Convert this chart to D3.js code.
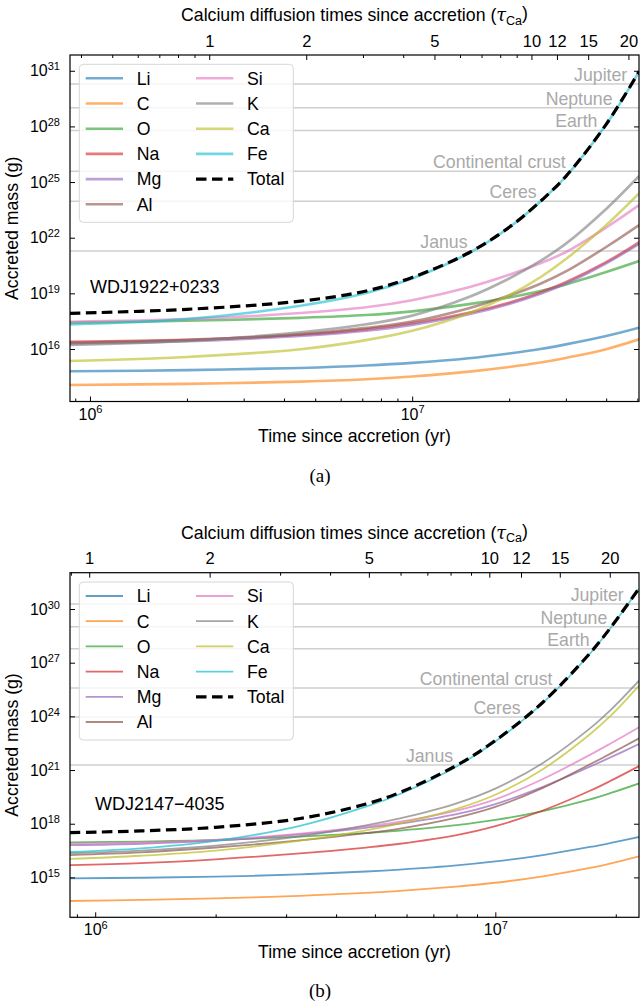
<!DOCTYPE html>
<html>
<head>
<meta charset="utf-8">
<script src="https://cdn.jsdelivr.net/npm/d3@7"></script>
<style>
body { margin: 0; background: #fff; }
text { font-family: "Liberation Sans", Arial, Helvetica, sans-serif; }
</style>
</head>
<body>
<svg id="chart" width="641" height="1005"></svg>
<script>
// element names and colours (matplotlib tab10)
var elements = ["Li", "C", "O", "Na", "Mg", "Al", "Si", "K", "Ca", "Fe"];
var colors = ["#1f77b4", "#ff7f0e", "#2ca02c", "#d62728", "#9467bd", "#8c564b", "#e377c2", "#7f7f7f", "#bcbd22", "#17becf"];

// reference bodies, log10 of mass in g
var bodyNames = ["Jupiter", "Neptune", "Earth", "Continental crust", "Ceres", "Janus"];
var bodyLogMass = [30.28, 29.01, 27.78, 25.58, 23.97, 21.28];

var tauTicks = [1, 2, 5, 10, 12, 15, 20];
var tauMinorTicks = [0.4, 0.5, 0.6, 0.7, 0.8, 0.9, 3, 4, 6, 7, 8, 9];
var yTicksA = [16, 19, 22, 25, 28, 31];
var yTicksB = [15, 18, 21, 24, 27, 30];
var xMajorTicks = [1e6, 1e7];
var xMinorTicks = [9e5, 2e6, 3e6, 4e6, 5e6, 6e6, 7e6, 8e6, 9e6, 2e7, 3e7, 4e7, 5e7];

// panel (a) WDJ1922+0233 : time since accretion (yr), log10 accreted mass (g)
var timeA = [8.67e5, 2e6, 4.5e6, 7.2e6, 1e7, 1.5e7, 2e7, 2.5e7, 3e7, 4e7, 5.06e7];
var massA = [
  [14.80, 14.86, 14.98, 15.11, 15.25, 15.50, 15.76, 16.00, 16.25, 16.70, 17.15], // Li
  [14.06, 14.12, 14.24, 14.37, 14.52, 14.78, 15.03, 15.27, 15.52, 15.99, 16.52], // C
  [17.42, 17.52, 17.68, 17.83, 18.03, 18.42, 18.78, 19.13, 19.48, 20.15, 20.74], // O
  [16.39, 16.50, 16.77, 17.06, 17.38, 17.95, 18.50, 19.05, 19.60, 20.68, 21.75], // Na
  [16.30, 16.42, 16.70, 16.98, 17.30, 17.88, 18.43, 18.98, 19.53, 20.62, 21.66], // Mg
  [16.33, 16.48, 16.80, 17.14, 17.48, 18.20, 18.88, 19.52, 20.18, 21.50, 22.68], // Al
  [17.47, 17.61, 17.94, 18.25, 18.63, 19.33, 20.00, 20.62, 21.23, 22.55, 23.76], // Si
  [16.22, 16.44, 16.90, 17.33, 17.80, 18.80, 19.80, 20.75, 21.68, 23.55, 25.33], // K
  [15.35, 15.57, 15.99, 16.48, 16.98, 17.93, 18.90, 19.87, 20.85, 22.68, 24.39], // Ca
  [17.33, 17.62, 18.33, 19.02, 19.80, 21.17, 22.55, 23.95, 25.30, 28.10, 30.95]  // Fe
];
var totalA = [17.92, 18.14, 18.58, 19.13, 19.86, 21.19, 22.56, 23.96, 25.31, 28.11, 30.96];

// panel (b) WDJ2147-4035
var timeB = [8.65e5, 1.3e6, 2e6, 3.25e6, 4.75e6, 5.78e6, 8e6, 1e7, 1.315e7, 1.724e7, 1.946e7, 2.286e7];
var massB = [
  [14.95, 14.98, 15.04, 15.17, 15.33, 15.44, 15.67, 15.89, 16.25, 16.70, 16.93, 17.26], // Li
  [13.68, 13.74, 13.83, 13.97, 14.14, 14.25, 14.49, 14.70, 15.06, 15.53, 15.79, 16.18], // C
  [16.96, 17.00, 17.09, 17.28, 17.48, 17.62, 17.92, 18.21, 18.71, 19.36, 19.72, 20.25], // O
  [15.69, 15.80, 16.01, 16.34, 16.67, 16.88, 17.36, 17.86, 18.74, 19.84, 20.41, 21.22], // Na
  [16.80, 16.88, 17.05, 17.40, 17.77, 18.00, 18.53, 19.10, 20.06, 21.19, 21.72, 22.45], // Mg
  [16.25, 16.40, 16.67, 17.07, 17.47, 17.73, 18.34, 18.94, 20.00, 21.32, 21.93, 22.77], // Al
  [16.87, 16.95, 17.10, 17.45, 17.85, 18.11, 18.73, 19.36, 20.50, 21.85, 22.50, 23.39], // Si
  [16.35, 16.50, 16.78, 17.30, 17.91, 18.30, 19.14, 19.96, 21.40, 23.33, 24.38, 26.00], // K
  [16.03, 16.21, 16.50, 17.05, 17.63, 18.02, 18.83, 19.62, 21.05, 23.00, 24.05, 25.72], // Ca
  [16.42, 16.62, 17.04, 17.88, 18.95, 19.66, 21.20, 22.60, 24.75, 27.50, 28.97, 31.13]  // Fe
];
var totalB = [17.50, 17.60, 17.80, 18.29, 19.10, 19.75, 21.26, 22.65, 24.79, 27.53, 28.99, 31.15];

var svg = d3.select("#chart");
var textSize = "17.7px";

function supLabel(sel, base, exp, size) {
	sel.text(null);
	sel.append("tspan").text(base);
	sel.append("tspan").attr("dy", "-0.55em").style("font-size", size + "px").text(exp);
}

function drawPanel(p) {
	var g = svg.append("g");
	var x = d3.scaleLog().domain(p.xDomain).range([p.left, p.right]);
	var y = d3.scaleLog().domain([Math.pow(10, p.yExp[0]), Math.pow(10, p.yExp[1])]).range([p.bottom, p.top]);
	var tau = d3.scaleLog().domain([p.xDomain[0] / p.tauCa, p.xDomain[1] / p.tauCa]).range([p.left, p.right]);
	var inTau = function(v) { return v >= tau.domain()[0] && v <= tau.domain()[1]; };

	g.append("clipPath").attr("id", "clip" + p.id)
		.append("rect").attr("x", p.left).attr("y", p.top)
		.attr("width", p.right - p.left).attr("height", p.bottom - p.top);

	// reference body levels
	g.selectAll("line.body").data(bodyLogMass).enter().append("line")
		.attr("class", "body")
		.attr("x1", p.left).attr("x2", p.right)
		.attr("y1", function(d) { return y(Math.pow(10, d)); })
		.attr("y2", function(d) { return y(Math.pow(10, d)); })
		.attr("stroke", "#cfcfcf").attr("stroke-width", 1.5);

	var line = d3.line()
		.x(function(d) { return x(d[0]); })
		.y(function(d) { return y(Math.pow(10, d[1])); })
		.curve(d3.curveCatmullRom.alpha(0.5));

	var curves = g.append("g").attr("clip-path", "url(#clip" + p.id + ")");
	p.values.forEach(function(vals, i) {
		curves.append("path")
			.datum(vals.map(function(v, j) { return [p.times[j], v]; }))
			.attr("d", line)
			.attr("fill", "none")
			.attr("stroke", colors[i])
			.attr("stroke-opacity", p.alpha)
			.attr("stroke-width", p.lineWidth);
	});
	var totalPts = p.total.map(function(v, j) { return [p.times[j], v]; });
	curves.append("path").datum(totalPts)
		.attr("d", line)
		.attr("fill", "none")
		.attr("stroke", "#000")
		.attr("stroke-width", 3.2)
		.attr("stroke-dasharray", "10.5,5.5");

	// body labels, just left of where the total curve crosses each level
	bodyNames.forEach(function(name, i) {
		var lv = bodyLogMass[i], cx = p.right;
		for (var j = 1; j < totalPts.length; j++) {
			if (totalPts[j][1] >= lv) {
				var x0 = x(totalPts[j - 1][0]), x1 = x(totalPts[j][0]);
				var f = (lv - totalPts[j - 1][1]) / (totalPts[j][1] - totalPts[j - 1][1]);
				cx = x0 + f * (x1 - x0);
				break;
			}
		}
		g.append("text")
			.attr("x", cx - 4)
			.attr("y", y(Math.pow(10, lv)) - 3)
			.attr("text-anchor", "end")
			.attr("fill", "#a9a9a9")
			.style("font-size", textSize)
			.text(name);
	});

	// axes, ticks pointing inward
	g.append("g").attr("transform", "translate(0," + p.bottom + ")")
		.call(d3.axisBottom(x).tickValues(xMinorTicks.filter(function(v) { return v >= p.xDomain[0] && v <= p.xDomain[1]; }))
			.tickSize(-3).tickFormat(""));
	var bx = g.append("g").attr("transform", "translate(0," + p.bottom + ")")
		.call(d3.axisBottom(x).tickValues(xMajorTicks).tickSize(-5).tickPadding(0));
	bx.selectAll(".tick text").attr("dy", null).attr("y", 18)
		.style("font-size", "16px")
		.each(function(d) { supLabel(d3.select(this), "10", Math.round(Math.log10(d)), 11); });

	g.append("g").attr("transform", "translate(0," + p.top + ")")
		.call(d3.axisTop(tau).tickValues(tauMinorTicks.filter(inTau)).tickSize(-3).tickFormat(""));
	var tx = g.append("g").attr("transform", "translate(0," + p.top + ")")
		.call(d3.axisTop(tau).tickValues(tauTicks.filter(inTau)).tickSize(-5).tickPadding(8.5).tickFormat(d3.format("d")));
	tx.selectAll(".tick text").style("font-size", "16.5px");

	var yt = p.yTicks.map(function(e) { return Math.pow(10, e); });
	var ly = g.append("g").attr("transform", "translate(" + p.left + ",0)")
		.call(d3.axisLeft(y).tickValues(yt).tickSize(-5).tickPadding(10));
	ly.selectAll(".tick text").style("font-size", "16px")
		.each(function(d) { supLabel(d3.select(this), "10", Math.round(Math.log10(d)), 11); });
	g.append("g").attr("transform", "translate(" + p.right + ",0)")
		.call(d3.axisRight(y).tickValues(yt).tickSize(-5).tickFormat(""));

	g.selectAll(".domain").remove();
	g.selectAll(".tick line").attr("stroke", "#000");
	g.selectAll(".tick text").attr("fill", "#000").style("font-family", "'Liberation Sans', Arial, sans-serif");

	g.append("rect")
		.attr("x", p.left).attr("y", p.top)
		.attr("width", p.right - p.left).attr("height", p.bottom - p.top)
		.attr("fill", "none").attr("stroke", "#000").attr("stroke-width", 1.2);

	// titles
	var midX = (p.left + p.right) / 2, midY = (p.top + p.bottom) / 2;
	var tt = g.append("text").attr("x", midX).attr("y", p.top - 34)
		.attr("text-anchor", "middle").style("font-size", textSize);
	tt.append("tspan").text("Calcium diffusion times since accretion (");
	tt.append("tspan").style("font-family", "'DejaVu Serif', serif").style("font-style", "italic").text("\u03c4");
	tt.append("tspan").attr("dy", "0.3em").style("font-size", "12.5px").text("Ca");
	tt.append("tspan").attr("dy", "-0.3em").text(")");
	g.append("text").attr("x", midX).attr("y", p.bottom + 40.5)
		.attr("text-anchor", "middle").style("font-size", textSize)
		.text("Time since accretion (yr)");
	g.append("text").attr("transform", "translate(18," + midY + ") rotate(-90)")
		.attr("text-anchor", "middle").style("font-size", textSize)
		.text("Accreted mass (g)");
	g.append("text").attr("x", 320).attr("y", p.bottom + 80)
		.attr("text-anchor", "middle")
		.style("font-family", "'Liberation Serif', 'Times New Roman', serif").style("font-size", "19px")
		.text(p.label);
	g.append("text").attr("x", p.starX).attr("y", p.starY)
		.style("font-size", "18px").text(p.star);

	// legend
	var lx = p.left + 9.3, lyTop = p.top + 9.3;
	var leg = g.append("g");
	leg.append("rect").attr("x", lx).attr("y", lyTop).attr("width", 214).attr("height", 158)
		.attr("rx", 4).attr("fill", "#fff").attr("fill-opacity", 0.8)
		.attr("stroke", "#d6d6d6").attr("stroke-width", 1);
	var names = elements.concat(["Total"]);
	names.forEach(function(name, i) {
		var col = i < 6 ? 0 : 1, row = i < 6 ? i : i - 6;
		var ox = lx + 6.4 + col * 110.3, oy = lyTop + 14 + row * 25.2;
		var ln = leg.append("line").attr("x1", ox).attr("x2", ox + 37.3).attr("y1", oy).attr("y2", oy);
		if (name === "Total") {
			ln.attr("stroke", "#000").attr("stroke-width", 3.2).attr("stroke-dasharray", "10.5,5.5");
		} else {
			ln.attr("stroke", colors[i]).attr("stroke-opacity", p.alpha).attr("stroke-width", p.lineWidth);
		}
		leg.append("text").attr("x", ox + 51).attr("y", oy + 6.3)
			.style("font-size", textSize).text(name);
	});
}

drawPanel({
	id: "a", top: 55, bottom: 401.5, left: 70, right: 639,
	xDomain: [8.67e5, 5.058e7], yExp: [13.17, 31.85], tauCa: 2.345e6, yTicks: yTicksA,
	times: timeA, values: massA, total: totalA,
	star: "WDJ1922+0233", starX: 90, starY: 293, label: "(a)",
	lineWidth: 2.6, alpha: 0.62
});
drawPanel({
	id: "b", top: 572.7, bottom: 917.3, left: 70, right: 639,
	xDomain: [8.65e5, 2.286e7], yExp: [12.77, 32.03], tauCa: 9.66e5, yTicks: yTicksB,
	times: timeB, values: massB, total: totalB,
	star: "WDJ2147\u22124035", starX: 95, starY: 810, label: "(b)",
	lineWidth: 1.8, alpha: 0.7
});
</script>
</body>
</html>
